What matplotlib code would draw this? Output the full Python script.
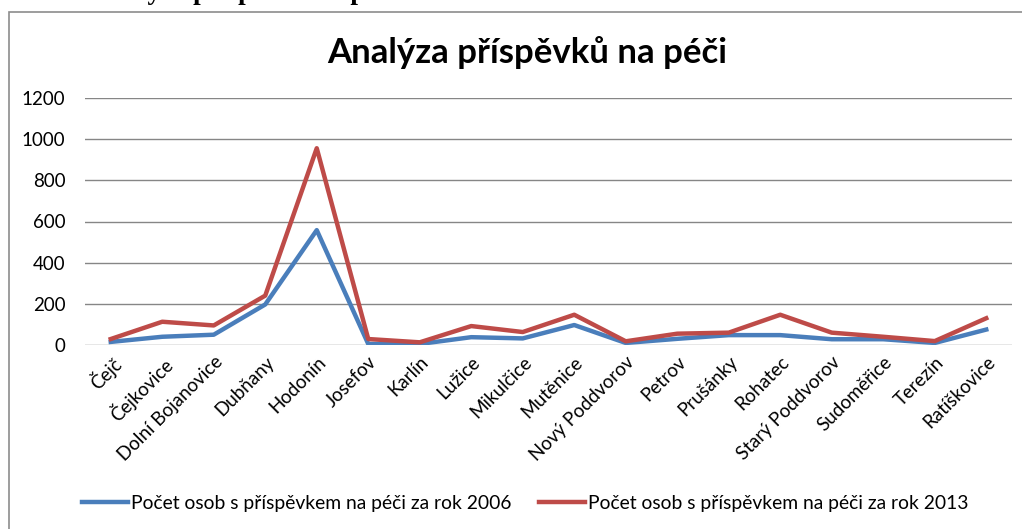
import matplotlib
matplotlib.use("Agg")
import matplotlib.pyplot as plt
from matplotlib.patches import Rectangle

categories = ["Čejč", "Čejkovice", "Dolní Bojanovice", "Dubňany", "Hodonín", "Josefov",
              "Karlín", "Lužice", "Mikulčice", "Mutěnice", "Nový Poddvorov", "Petrov",
              "Prušánky", "Rohatec", "Starý Poddvorov", "Sudoměřice", "Terezín", "Ratíškovice"]
values_2006 = [15, 40, 50, 197, 558, 5, 5, 38, 32, 97, 10, 30, 48, 48, 28, 28, 10, 75]
values_2013 = [29, 113, 95, 240, 956, 29, 13, 92, 63, 147, 18, 55, 60, 147, 60, 40, 19, 130]
yticks = [0, 200, 400, 600, 800, 1000, 1200]
label_2006 = "Počet osob s příspěvkem na péči za rok 2006"
label_2013 = "Počet osob s příspěvkem na péči za rok 2013"
title = "Analýza příspěvků na péči"

W, H = 1022, 529
plt.rcParams['font.family'] = ['Lato', 'DejaVu Sans']
fig = plt.figure(figsize=(W / 100, H / 100), dpi=100)

# cut-off document heading above chart
fig.text(92 / W, (H + 1) / H, "Analýza příspěvku na péči", family=['Liberation Serif', 'DejaVu Serif'],
         fontweight='bold', fontsize=19.4, ha='left', va='baseline')

# chart frame
fig.patches.append(Rectangle((9 / W, -0.1), 1.2, (H - 12) / H + 0.1, transform=fig.transFigure,
                             fill=False, edgecolor='#8c8c8c', linewidth=1.2))

ax = fig.add_axes([85 / W, (H - 345) / H, (1012 - 85) / W, (345 - 98) / H])
x = list(range(len(categories)))
ax.plot(x, values_2006, color='#4A7EBB', linewidth=3.2, label=label_2006, solid_joinstyle='round')
ax.plot(x, values_2013, color='#BE4B48', linewidth=3.2, label=label_2013, solid_joinstyle='round')
ax.set_xlim(-0.5, len(categories) - 0.5)
ax.set_ylim(0, 1200)
ax.set_yticks(yticks)
ax.set_yticklabels([str(v) for v in yticks])
ax.yaxis.grid(True, color='#868686', linewidth=1.0)
ax.set_axisbelow(True)
for s in ax.spines.values():
    s.set_visible(False)
ax.tick_params(axis='y', length=0, pad=14, labelsize=13.5)
ax.tick_params(axis='x', length=0, pad=6, labelsize=13.5)
ax.set_xticks(x)
ax.set_xticklabels(categories, rotation=45, ha='right', va='top', rotation_mode='anchor')

fig.text(527 / W, (H - 53) / H, title, fontsize=25, fontweight='bold', ha='center', va='center')

fig.legend(loc='center', bbox_to_anchor=(525 / W, (H - 503) / H), ncol=2, frameon=False,
           fontsize=13.9, handlelength=2.4, handletextpad=0.15, columnspacing=1.4)

fig.savefig("out.png", dpi=100)
